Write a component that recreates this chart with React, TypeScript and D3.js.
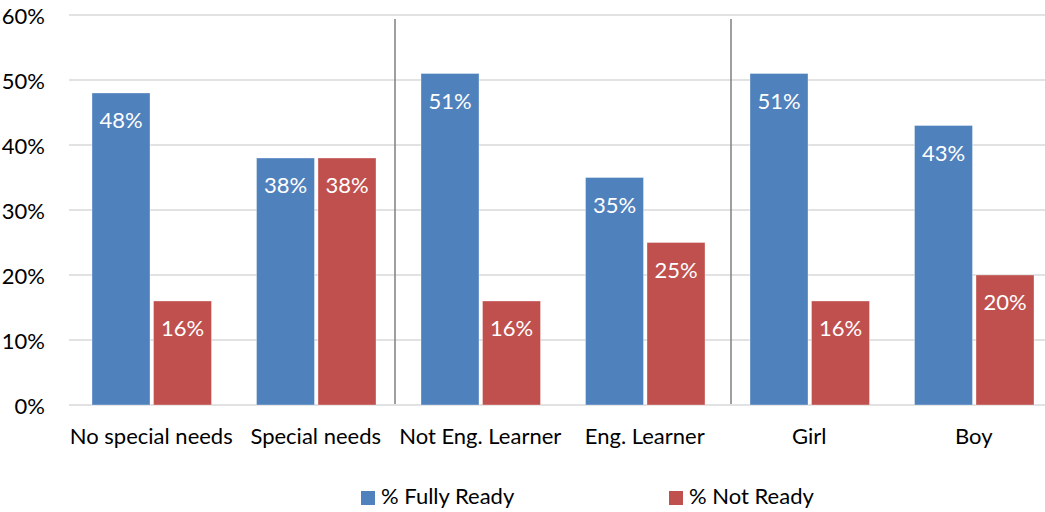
import React, { useEffect } from "react";
import * as d3 from "d3";

// Readiness by student group, two series per group
const categories = [
  "No special needs",
  "Special needs",
  "Not Eng. Learner",
  "Eng. Learner",
  "Girl",
  "Boy",
];
const seriesNames = ["% Fully Ready", "% Not Ready"];
const fullyReady = [48, 38, 51, 35, 51, 43];
const notReady = [16, 38, 16, 25, 16, 20];
const yTicks = [0, 10, 20, 30, 40, 50, 60];
// group dividers sit before these category indices
const dividerBefore = [2, 4];

const colors = ["#4F81BD", "#C0504D"];
const FONT = "Lato, 'Open Sans', sans-serif";
const FS = 22;

export default function App() {
  useEffect(() => {
    document.body.style.margin = "0";
  }, []);

  const width = 1045;
  const height = 512;
  const left = 69;
  const step = 164.5;
  const top = 15;
  const bottom = 405;

  const x = d3
    .scaleBand<string>()
    .domain(categories)
    .range([left, left + step * categories.length])
    .paddingInner(0)
    .paddingOuter(0);

  const groupPad = 23;
  const xs = d3
    .scaleBand<string>()
    .domain(seriesNames)
    .range([groupPad, groupPad + 119.5])
    .paddingInner(3.5 / 61.5)
    .paddingOuter(0);

  const y = d3.scaleLinear().domain([0, 60]).range([bottom, top]);

  const values = [fullyReady, notReady];
  const dividerNudge = [-3, 4];

  return (
    <svg
      width={width}
      height={height}
      style={{ position: "absolute", left: 0, top: 0, background: "#fff" }}
      fontFamily={FONT}
    >
      {/* gridlines and y tick labels */}
      {yTicks.map((t) => (
        <g key={t}>
          <line
            x1={left}
            x2={width}
            y1={y(t)}
            y2={y(t)}
            stroke="#D9D9D9"
            strokeWidth={1.5}
          />
          <text
            x={45}
            y={y(t)}
            textAnchor="end"
            dominantBaseline="central"
            fontSize={FS}
            fill="#000"
          >
            {t}%
          </text>
        </g>
      ))}

      {/* group dividers */}
      {dividerBefore.map((ci, i) => {
        const xx = (x(categories[ci]) as number) + dividerNudge[i];
        return (
          <line
            key={ci}
            x1={xx}
            x2={xx}
            y1={19}
            y2={bottom - 1}
            stroke="#7F7F7F"
            strokeWidth={1.5}
          />
        );
      })}

      {/* bars and value labels */}
      {categories.map((c, ci) => (
        <g key={c} transform={`translate(${x(c)},0)`}>
          {seriesNames.map((s, si) => {
            const v = values[si][ci];
            const bx = xs(s) as number;
            const bw = xs.bandwidth();
            return (
              <g key={s}>
                <rect
                  x={bx}
                  y={y(v)}
                  width={bw}
                  height={y(0) - y(v)}
                  fill={colors[si]}
                  stroke="#ffffff"
                  strokeOpacity={0.35}
                  strokeWidth={1}
                />
                <text
                  x={bx + bw / 2}
                  y={y(v) + 35}
                  textAnchor="middle"
                  fontSize={FS}
                  fill="#fff"
                >
                  {v}%
                </text>
              </g>
            );
          })}
          <text
            x={x.bandwidth() / 2}
            y={444}
            textAnchor="middle"
            fontSize={FS}
            fill="#000"
          >
            {c}
          </text>
        </g>
      ))}

      {/* legend */}
      {seriesNames.map((s, si) => {
        const lx = [361, 669][si];
        return (
          <g key={s}>
            <rect x={lx} y={491} width={14} height={14} fill={colors[si]} />
            <text x={lx + 20} y={504} fontSize={FS} fill="#000">
              {s}
            </text>
          </g>
        );
      })}
    </svg>
  );
}
